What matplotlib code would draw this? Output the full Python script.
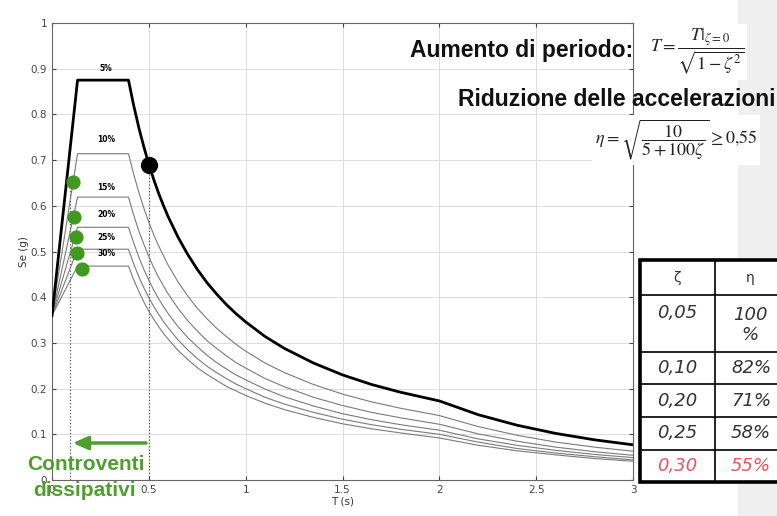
import matplotlib
matplotlib.use("Agg")
import matplotlib.pyplot as plt
from matplotlib.patches import Rectangle

plt.rcParams['mathtext.fontset'] = 'stix'

# ------- data -------
periods = [0, 0.132, 0.395, 0.42, 0.45, 0.475, 0.5, 0.525, 0.55, 0.575, 0.6, 0.65, 0.7,
           0.75, 0.8, 0.85, 0.9, 0.95, 1.0, 1.1, 1.2, 1.35, 1.5, 1.65, 1.8, 2.0,
           2.2, 2.4, 2.6, 2.8, 3.0]
se_05 = [0.36, 0.875, 0.875, 0.823, 0.768, 0.728, 0.691, 0.658, 0.628, 0.601, 0.576, 0.532,
         0.494, 0.461, 0.432, 0.407, 0.384, 0.364, 0.346, 0.314, 0.288, 0.256, 0.230,
         0.209, 0.192, 0.173, 0.143, 0.120, 0.102, 0.088, 0.077]
se_10 = [0.36, 0.714, 0.714, 0.672, 0.627, 0.594, 0.564, 0.537, 0.513, 0.491, 0.470, 0.434,
         0.403, 0.376, 0.353, 0.332, 0.314, 0.297, 0.282, 0.256, 0.235, 0.209, 0.188,
         0.171, 0.157, 0.141, 0.117, 0.098, 0.083, 0.072, 0.063]
se_15 = [0.36, 0.619, 0.619, 0.582, 0.543, 0.515, 0.489, 0.465, 0.444, 0.425, 0.407, 0.376,
         0.349, 0.326, 0.305, 0.288, 0.272, 0.257, 0.245, 0.222, 0.204, 0.181, 0.163,
         0.148, 0.136, 0.122, 0.101, 0.085, 0.072, 0.062, 0.054]
se_20 = [0.36, 0.553, 0.553, 0.521, 0.486, 0.460, 0.437, 0.416, 0.397, 0.380, 0.364, 0.336,
         0.312, 0.292, 0.273, 0.257, 0.243, 0.230, 0.219, 0.199, 0.182, 0.162, 0.145,
         0.132, 0.121, 0.109, 0.090, 0.076, 0.065, 0.056, 0.049]
se_25 = [0.36, 0.505, 0.505, 0.475, 0.443, 0.420, 0.399, 0.380, 0.363, 0.347, 0.333, 0.307,
         0.285, 0.266, 0.249, 0.235, 0.222, 0.210, 0.200, 0.181, 0.166, 0.148, 0.133,
         0.121, 0.111, 0.100, 0.083, 0.069, 0.059, 0.051, 0.044]
se_30 = [0.36, 0.468, 0.468, 0.440, 0.411, 0.389, 0.369, 0.352, 0.336, 0.321, 0.308, 0.284,
         0.264, 0.246, 0.231, 0.218, 0.205, 0.195, 0.185, 0.168, 0.154, 0.137, 0.123,
         0.112, 0.103, 0.092, 0.076, 0.064, 0.055, 0.047, 0.041]
damped = [se_10, se_15, se_20, se_25, se_30]

curve_labels = ['5%', '10%', '15%', '20%', '25%', '30%']
label_se = [0.900, 0.744, 0.641, 0.580, 0.530, 0.495]

shift_T = [0.108, 0.114, 0.124, 0.129, 0.155]
shift_se = [0.652, 0.576, 0.532, 0.497, 0.462]
start_T, start_se = 0.5, 0.69
target_T = 0.093

zeta_col = ['0,05', '0,10', '0,20', '0,25', '0,30']
eta_col = ['100\n%', '82%', '71%', '58%', '55%']

green = '#4f9e2e'

# ------- figure -------
fig = plt.figure(figsize=(7.77, 5.16), dpi=100)
W, H = 777, 516

# slide background on the right
bg = fig.add_axes([0, 0, 1, 1], zorder=-5)
bg.set_xlim(0, W); bg.set_ylim(H, 0); bg.axis('off')
bg.add_patch(Rectangle((738, 0), W - 738, H, color='#efefef', lw=0))

ax = fig.add_axes([52 / W, (H - 480) / H, (633 - 52) / W, (480 - 23) / H])
ax.plot(periods, se_05, color='black', lw=2, zorder=4)
for s in damped:
    ax.plot(periods, s, color='#7a7a7a', lw=0.8, zorder=3)

for lab, y in zip(curve_labels, label_se):
    ax.text(0.28, y, lab, fontsize=5.5, fontweight='bold', ha='center', va='center')

ax.plot([target_T, target_T], [0, shift_se[0]], ls=':', color='#555555', lw=0.9, zorder=2)
ax.plot([start_T, start_T], [0, start_se], ls=':', color='#555555', lw=0.9, zorder=2)
ax.scatter(shift_T, shift_se, s=85, color='#3f9a1e', zorder=5)
ax.scatter([start_T], [start_se], s=130, color='black', zorder=5)
ax.annotate('', xy=(target_T, 0.081), xytext=(start_T, 0.081),
            arrowprops=dict(arrowstyle='-|>,head_width=0.4,head_length=0.9',
                            color=green, lw=2.5))

ax.set_xlim(0, 3)
ax.set_ylim(0, 1)
ax.set_xticks([0, 0.5, 1, 1.5, 2, 2.5, 3])
ax.set_xticklabels(['0', '0.5', '1', '1.5', '2', '2.5', '3'])
ax.set_yticks([i / 10 for i in range(11)])
ax.set_yticklabels(['0', '0.1', '0.2', '0.3', '0.4', '0.5', '0.6', '0.7', '0.8', '0.9', '1'])
ax.tick_params(labelsize=7.5, colors='#444444', direction='in', length=3,
               top=True, right=True)
ax.grid(True, color='#dddddd', lw=0.7)
for sp in ax.spines.values():
    sp.set_color('#666666')
    sp.set_linewidth(0.8)
ax.set_xlabel('T (s)', fontsize=7.5, color='#333333', labelpad=1)
ax.set_ylabel('Se (g)', fontsize=7.5, color='#333333', labelpad=1)

# ------- annotations on top -------
ov = fig.add_axes([0, 0, 1, 1], zorder=10)
ov.set_xlim(0, W); ov.set_ylim(H, 0); ov.axis('off')

ov.text(410, 50, 'Aumento di periodo:', fontsize=16.5, fontweight='bold',
        family='Liberation Sans', va='center', ha='left', color='#111111')
ov.text(650, 52, r'$T=\dfrac{T|_{\zeta=0}}{\sqrt{1-\zeta^2}}$', fontsize=13,
        va='center', ha='left', color='#222222',
        bbox=dict(facecolor='white', edgecolor='none', pad=2))
ov.text(775, 100, 'Riduzione delle accelerazioni', fontsize=16.5, fontweight='bold',
        family='Liberation Sans', va='center', ha='right', color='#111111')
ov.text(595, 140, r'$\eta=\sqrt{\dfrac{10}{5+100\zeta}}\geq 0{,}55$', fontsize=13,
        va='center', ha='left', color='#222222',
        bbox=dict(facecolor='white', edgecolor='none', pad=2))

ov.text(86, 465, 'Controventi', fontsize=15, fontweight='bold', family='Liberation Sans',
        color=green, ha='center', va='center')
ov.text(84, 491, 'dissipativi', fontsize=15, fontweight='bold', family='Liberation Sans',
        color=green, ha='center', va='center')

# table
tx0, tx1, tx2 = 640, 715, 800
row_y = [260, 295, 352, 384, 417, 450, 482]
ov.add_patch(Rectangle((tx0, row_y[0]), tx2 - tx0, row_y[-1] - row_y[0],
                       facecolor='white', edgecolor='none'))
for y in row_y[1:-1]:
    ov.plot([tx0, tx2], [y, y], color='black', lw=1.2)
ov.plot([tx1, tx1], [row_y[0], row_y[-1]], color='black', lw=1.2)
ov.plot([tx2, tx0, tx0, tx2], [row_y[0], row_y[0], row_y[-1], row_y[-1]],
        color='black', lw=2.6, solid_joinstyle='miter')
ov.text((tx0 + tx1) / 2, 278, 'ζ', fontsize=10, ha='center', va='center', color='#333333')
ov.text(750, 278, 'η', fontsize=10, ha='center', va='center', color='#333333')
for i, (z, e) in enumerate(zip(zeta_col, eta_col)):
    c = '#e8535f' if i == len(zeta_col) - 1 else '#333333'
    if i == 0:
        yc = 313
        ov.text((tx0 + tx1) / 2, yc, z, fontsize=13, style='italic', ha='center',
                va='center', color=c)
        ov.text(750, 325, e, fontsize=13, style='italic', ha='center', va='center',
                color=c, linespacing=1.1)
    else:
        yc = (row_y[i + 1] + row_y[i + 2]) / 2
        ov.text((tx0 + tx1) / 2, yc, z, fontsize=13, style='italic', ha='center',
                va='center', color=c)
        ov.text(751, yc, e, fontsize=13, style='italic', ha='center', va='center', color=c)

fig.savefig('out.png', dpi=100)
